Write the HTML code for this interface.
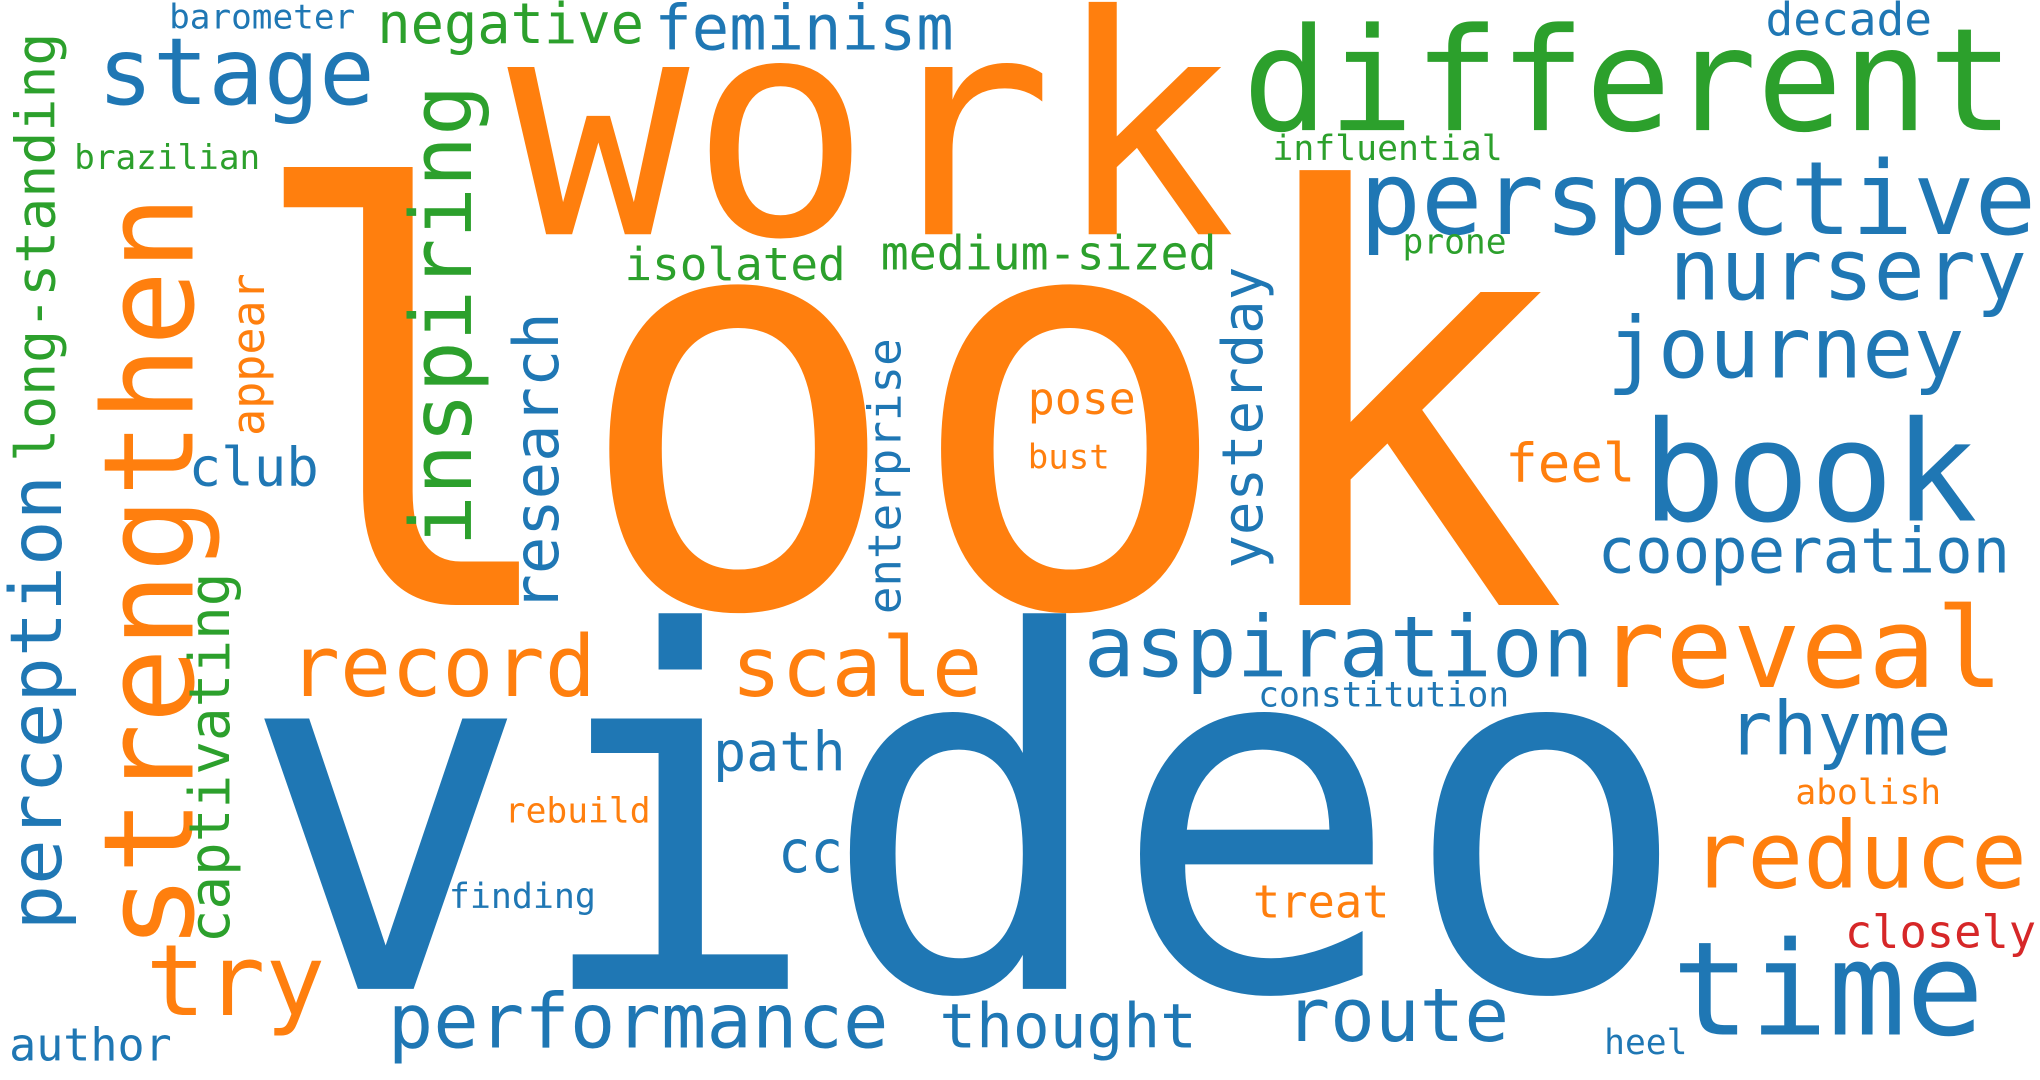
<!DOCTYPE html>
<html><head><meta charset="utf-8"><style>
html,body{margin:0;padding:0;background:#fff;}
svg{display:block;}
text{font-family:"DejaVu Sans Mono","Liberation Mono",monospace;}
</style></head><body>
<svg id="cloud" width="2040" height="1080" viewBox="0 0 1568 830" preserveAspectRatio="none" xmlns="http://www.w3.org/2000/svg">
<rect width="1568" height="830" fill="#fff"/>
</svg>
<script>
const words = ["look","video","work","different","perspective","nursery","journey","book","cooperation","reveal","aspiration","rhyme","reduce","time","closely","abolish","heel","constitution","treat","route","thought","performance","author","try","finding","cc","rebuild","path","record","scale","club","isolated","medium-sized","influential","prone","decade","feminism","negative","barometer","stage","brazilian","pose","bust","feel","strengthen","long-standing","perception","captivating","appear","inspiring","research","enterprise","yesterday"];
const fontSizes = [440,380,235,110,78,65,65,107,48,86,65,57,71,100,35,27,27,27,35,57,47,58,35,76,27,45,27,42,65,64,41,35,36,27,27,35,48,43,26,71,26,34,26,41,96,42,55,43,35,65,48,35,43];
const colors = ["o","b","o","g","b","b","b","b","b","o","b","b","o","b","r","o","b","b","o","b","b","b","b","o","b","b","o","b","o","o","b","g","g","g","g","b","b","g","b","b","g","o","o","o","o","g","b","g","o","g","b","b","b"];
const vertical = [0,0,0,0,0,0,0,0,0,0,0,0,0,0,0,0,0,0,0,0,0,0,0,0,0,0,0,0,0,0,0,0,0,0,0,0,0,0,0,0,0,0,0,0,1,1,1,1,1,1,1,1,1];
const layout = [
[185,465,1020],[185,760,1115],[390,180,560],[955,100,593],[1045,180,520],[1283,230,275],[1235,290,275],[1262,400,258],[1228,440,317],[1228,528,312],[833,520,392],[1328,580,172],[1300,682,258],[1285,795,240],[1418,728,147],[1380,618,112],[1233,810,64],[967,543,193],[963,705,105],[988,800,172],[722,805,198],[298,805,385],[7,815,125],[112,780,138],[345,698,113],[598,670,50],[388,632,112],[548,592,102],[222,535,236],[562,535,193],[145,373,100],[480,215,170],[677,207,258],[978,123,177],[1078,195,80],[1357,27,128],[503,38,230],[290,33,205],[130,22,143],[75,80,213],[57,130,143],[790,318,83],[790,360,63],[1157,370,100],
[148,730,580],[42,355,330],[47,715,350],[176,725,285],[203,335,125],[362,420,355],[429,470,230],[692,472,212],[970,437,232]
];
const palette = {b:"#1f77b4",o:"#ff7f0e",g:"#2ca02c",r:"#d62728"};
const svg = document.getElementById('cloud');
const NS = "http://www.w3.org/2000/svg";
words.forEach((w,i)=>{
  const t = document.createElementNS(NS,'text');
  const [a,b,len] = layout[i];
  t.textContent = w;
  t.setAttribute('font-size', fontSizes[i]);
  t.setAttribute('fill', palette[colors[i]]);
  t.setAttribute('textLength', len);
  t.setAttribute('lengthAdjust', 'spacingAndGlyphs');
  if (vertical[i]) {
    t.setAttribute('x', 0); t.setAttribute('y', 0);
    t.setAttribute('transform', `translate(${a},${b}) rotate(-90)`);
  } else {
    t.setAttribute('x', a); t.setAttribute('y', b);
  }
  
  
  svg.appendChild(t);
});
</script>
</body></html>
